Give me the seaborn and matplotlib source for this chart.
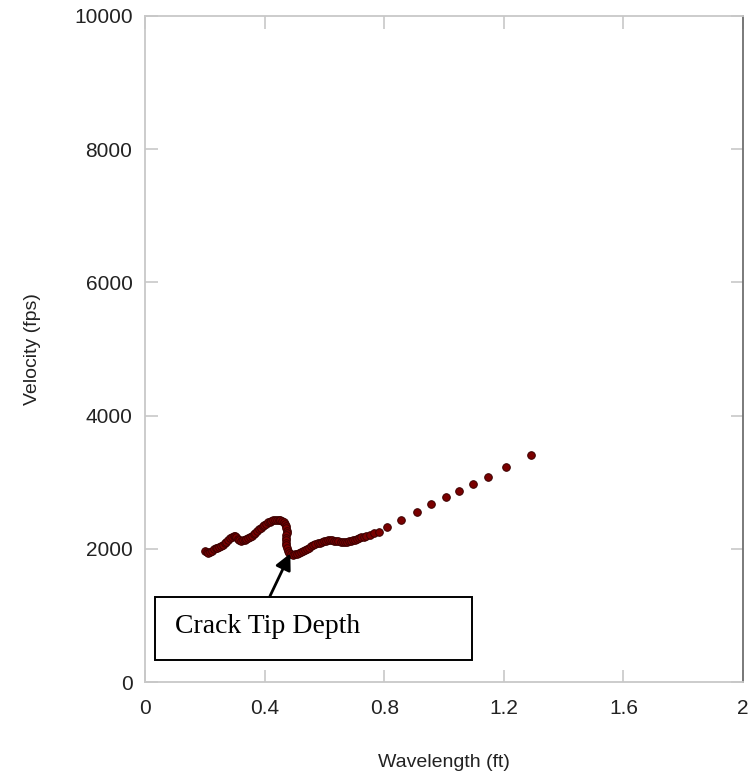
import matplotlib
matplotlib.use("Agg")
import matplotlib.pyplot as plt
from matplotlib.patches import Rectangle
import seaborn as sns
import pandas as pd

# ---- data ----
wavelength = [0.200, 0.206, 0.212, 0.218, 0.224, 0.230, 0.236, 0.242, 0.248, 0.254,
              0.260, 0.266, 0.272, 0.278, 0.284, 0.290, 0.296, 0.301, 0.306, 0.311,
              0.316, 0.321, 0.327, 0.333, 0.339, 0.345, 0.351, 0.357, 0.363, 0.369,
              0.375, 0.381, 0.387, 0.393, 0.399, 0.405, 0.411, 0.417, 0.423, 0.429,
              0.435, 0.441, 0.447, 0.453, 0.459, 0.464, 0.468, 0.471, 0.473, 0.474,
              0.474, 0.473, 0.472, 0.471, 0.471, 0.472, 0.474, 0.477, 0.482, 0.488,
              0.494, 0.500, 0.507, 0.514, 0.521, 0.528, 0.535, 0.542, 0.549, 0.556,
              0.563, 0.570, 0.577, 0.584, 0.591, 0.598, 0.605, 0.612, 0.619, 0.626,
              0.633, 0.640, 0.647, 0.654, 0.661, 0.668, 0.675, 0.682, 0.689, 0.696,
              0.703, 0.710, 0.717, 0.724, 0.731, 0.740, 0.752, 0.766, 0.782, 0.811,
              0.856, 0.909, 0.957, 1.007, 1.050, 1.097, 1.147, 1.208, 1.290]
velocity = [1967, 1945, 1935, 1945, 1965, 1990, 2005, 2015, 2025, 2040,
            2060, 2080, 2100, 2125, 2155, 2180, 2195, 2195, 2175, 2150,
            2130, 2120, 2125, 2135, 2150, 2165, 2180, 2195, 2215, 2240,
            2265, 2290, 2315, 2340, 2360, 2378, 2395, 2408, 2418, 2425,
            2430, 2432, 2430, 2425, 2412, 2395, 2370, 2340, 2305, 2270,
            2235, 2200, 2165, 2130, 2090, 2050, 2010, 1970, 1935, 1915,
            1910, 1915, 1925, 1940, 1955, 1970, 1985, 2000, 2018, 2038,
            2055, 2070, 2082, 2094, 2104, 2113, 2120, 2126, 2130, 2128,
            2124, 2118, 2112, 2108, 2106, 2106, 2108, 2112, 2118, 2125,
            2135, 2145, 2158, 2170, 2182, 2196, 2212, 2232, 2258, 2325,
            2432, 2552, 2673, 2778, 2868, 2973, 3078, 3228, 3408]

x_ticks = [0, 0.4, 0.8, 1.2, 1.6, 2]
y_ticks = [0, 2000, 4000, 6000, 8000, 10000]
annotation_text = "Crack Tip Depth"

df = pd.DataFrame({"Wavelength (ft)": wavelength, "Velocity (fps)": velocity})

sns.set_theme(style="white")
plt.rcParams["font.family"] = ["Liberation Sans", "DejaVu Sans"]

fig = plt.figure(figsize=(7.49, 7.73), dpi=100)
ax = fig.add_axes([145 / 749, 91 / 773, 598 / 749, 666 / 773])

sns.scatterplot(data=df, x="Wavelength (ft)", y="Velocity (fps)", ax=ax,
                color="#7a0000", edgecolor="#3a0000", linewidth=0.7, s=30,
                zorder=3, legend=False)

ax.set_xlim(0, 2)
ax.set_ylim(0, 10000)
ax.set_xticks(x_ticks)
ax.set_xticklabels(["0", "0.4", "0.8", "1.2", "1.6", "2"])
ax.set_yticks(y_ticks)
ax.set_yticklabels([str(v) for v in y_ticks])

ax.tick_params(axis="both", direction="in", length=9, width=1.2, color="#c8c8c8",
               labelsize=15, labelcolor="#222222", top=True, right=True,
               bottom=True, left=True)
ax.tick_params(axis="x", pad=12)
ax.tick_params(axis="y", pad=9)

for side in ["left", "top", "bottom"]:
    ax.spines[side].set_color("#c8c8c8")
    ax.spines[side].set_linewidth(1.3)
ax.spines["right"].set_color("#707070")
ax.spines["right"].set_linewidth(1.3)

ax.set_xlabel("Wavelength (ft)", fontsize=14, color="#222222", labelpad=26)
ax.set_ylabel("Velocity (fps)", fontsize=14, color="#222222", labelpad=24)

# annotation box and arrow
rect = Rectangle((0.034, 330), 1.060, 946, transform=ax.transData,
                 facecolor="white", edgecolor="black", linewidth=1.4, zorder=4)
ax.add_patch(rect)
ax.text(0.10, 830, annotation_text, fontsize=20, family=["Liberation Serif", "DejaVu Serif"],
        color="black", va="center", ha="left", zorder=5)
ax.annotate("", xy=(0.486, 1930), xytext=(0.418, 1290),
            arrowprops=dict(arrowstyle="-|>", color="black", lw=2,
                            mutation_scale=24, shrinkA=0, shrinkB=0),
            zorder=5)

fig.savefig("out.png", dpi=100)
